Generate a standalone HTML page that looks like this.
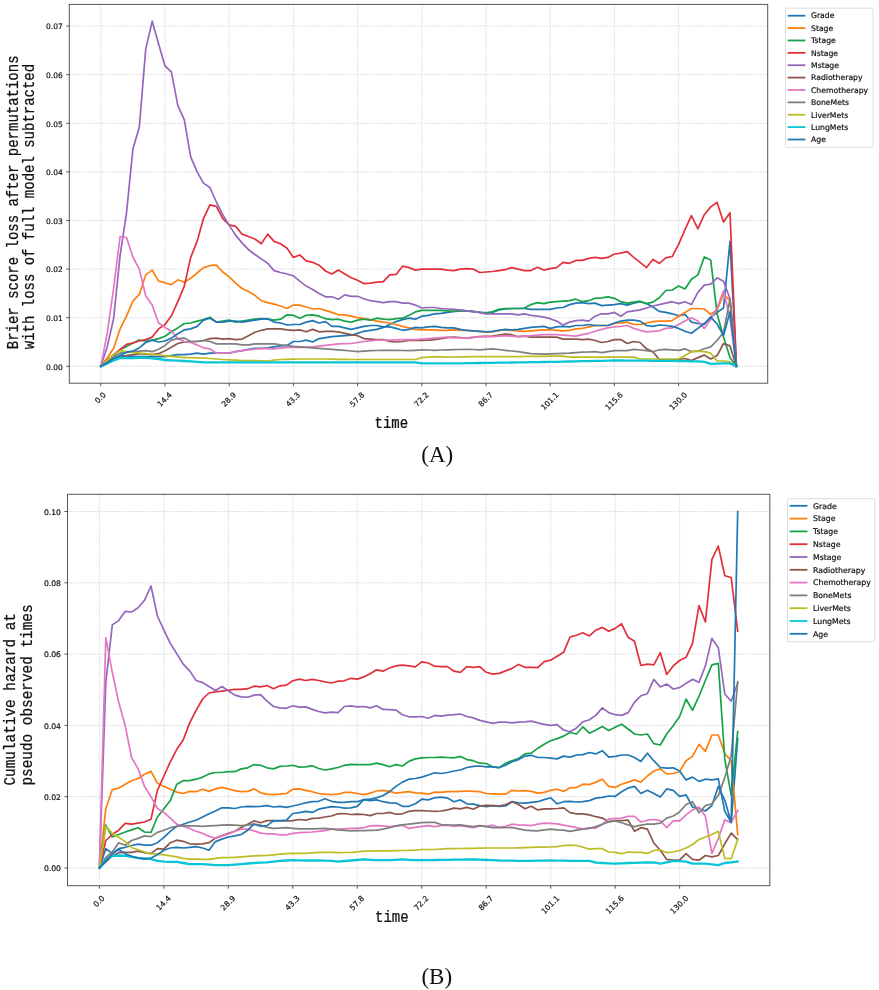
<!DOCTYPE html>
<html lang="en"><head><meta charset="utf-8"><title>Figure</title>
<style>
html,body{margin:0;padding:0;background:#fff}
body{width:879px;height:990px;overflow:hidden}
svg{display:block}
</style></head><body>
<svg width="879" height="990" viewBox="0 0 879 990">
<rect width="879" height="990" fill="#fff"/>
<g id="chartA">
<path d="M100.80 4.40V383.20M165.00 4.40V383.20M229.20 4.40V383.20M293.40 4.40V383.20M357.60 4.40V383.20M421.80 4.40V383.20M486.00 4.40V383.20M550.20 4.40V383.20M614.40 4.40V383.20M678.60 4.40V383.20M69.30 366.30H767.70M69.30 317.70H767.70M69.30 269.10H767.70M69.30 220.50H767.70M69.30 171.90H767.70M69.30 123.30H767.70M69.30 74.70H767.70M69.30 26.10H767.70" fill="none" stroke="#cdcdcd" stroke-width="0.7" stroke-dasharray="1.8 1.2"/>
<polyline points="100.8,366.3 107.2,362.4 113.6,358.5 120.1,355.6 126.5,356.1 132.9,356.3 139.3,356.6 145.7,356.6 152.2,356.6 158.6,356.6 165.0,356.6 171.4,355.6 177.8,354.6 184.3,354.6 190.7,354.2 197.1,353.2 203.5,354.2 209.9,353.2 216.4,353.2 222.8,353.2 229.2,353.2 235.6,351.7 242.0,350.7 248.5,349.3 254.9,348.3 261.3,348.3 267.7,347.8 274.1,346.9 280.6,345.9 287.0,345.4 293.4,341.5 299.8,341.5 306.2,340.1 312.7,342.0 319.1,338.6 325.5,337.6 331.9,336.7 338.3,336.2 344.8,335.7 351.2,335.2 357.6,333.3 364.0,331.3 370.4,330.3 376.9,329.4 383.3,327.4 389.7,324.5 396.1,321.6 402.5,319.6 409.0,318.2 415.4,319.2 421.8,316.2 428.2,315.3 434.6,313.8 441.1,313.3 447.5,312.4 453.9,311.4 460.3,310.4 466.7,310.9 473.2,311.4 479.6,312.4 486.0,312.8 492.4,312.4 498.8,309.9 505.3,309.0 511.7,308.5 518.1,308.5 524.5,308.5 530.9,309.4 537.4,309.4 543.8,309.4 550.2,309.4 556.6,308.0 563.0,307.5 569.5,304.6 575.9,303.1 582.3,302.6 588.7,303.6 595.1,303.1 601.6,305.6 608.0,305.1 614.4,304.6 620.8,303.6 627.2,305.1 633.7,303.1 640.1,301.7 646.5,303.6 652.9,307.0 659.3,311.4 665.8,312.4 672.2,313.8 678.6,315.8 685.0,314.3 691.4,322.1 697.9,323.5 704.3,324.5 710.7,317.2 717.1,312.4 723.5,308.0 730.0,241.4 736.4,366.3" fill="none" stroke="#1f77b4" stroke-width="1.7" stroke-linejoin="round" stroke-linecap="square"/>
<polyline points="100.8,366.3 107.2,358.0 113.6,348.3 120.1,328.9 126.5,316.2 132.9,301.2 139.3,294.4 145.7,274.9 152.2,270.1 158.6,281.2 165.0,282.7 171.4,284.7 177.8,279.8 184.3,282.2 190.7,278.3 197.1,273.0 203.5,267.6 209.9,265.7 216.4,265.2 222.8,272.0 229.2,276.9 235.6,283.2 242.0,288.5 248.5,291.5 254.9,295.3 261.3,300.7 267.7,302.6 274.1,304.1 280.6,306.0 287.0,308.5 293.4,305.1 299.8,305.1 306.2,307.0 312.7,309.0 319.1,308.5 325.5,310.4 331.9,312.4 338.3,314.8 344.8,314.8 351.2,316.2 357.6,317.7 364.0,318.7 370.4,319.6 376.9,321.1 383.3,322.1 389.7,323.0 396.1,324.5 402.5,326.4 409.0,327.9 415.4,329.4 421.8,329.9 428.2,329.9 434.6,329.9 441.1,330.3 447.5,330.3 453.9,329.9 460.3,330.1 466.7,330.3 473.2,330.8 479.6,331.3 486.0,331.8 492.4,331.8 498.8,330.3 505.3,329.9 511.7,330.3 518.1,330.8 524.5,331.3 530.9,330.8 537.4,330.3 543.8,329.9 550.2,329.9 556.6,330.3 563.0,330.8 569.5,330.3 575.9,328.9 582.3,328.4 588.7,326.9 595.1,325.5 601.6,325.5 608.0,325.5 614.4,323.5 620.8,323.0 627.2,322.1 633.7,324.5 640.1,324.5 646.5,323.0 652.9,321.6 659.3,321.1 665.8,321.1 672.2,320.6 678.6,316.2 685.0,312.4 691.4,308.5 697.9,308.5 704.3,309.0 710.7,314.3 717.1,309.9 723.5,294.4 730.0,300.7 736.4,366.3" fill="none" stroke="#ff7f0e" stroke-width="1.7" stroke-linejoin="round" stroke-linecap="square"/>
<polyline points="100.8,366.3 107.2,360.5 113.6,355.1 120.1,349.8 126.5,346.4 132.9,343.0 139.3,340.1 145.7,341.0 152.2,340.1 158.6,338.6 165.0,336.2 171.4,331.8 177.8,327.9 184.3,323.5 190.7,323.0 197.1,321.1 203.5,319.6 209.9,317.2 216.4,322.1 222.8,321.1 229.2,320.1 235.6,322.1 242.0,321.1 248.5,320.1 254.9,319.2 261.3,318.7 267.7,319.2 274.1,320.1 280.6,319.2 287.0,314.8 293.4,315.3 299.8,318.2 306.2,315.3 312.7,314.8 319.1,316.2 325.5,318.7 331.9,319.6 338.3,319.2 344.8,321.1 351.2,322.1 357.6,320.1 364.0,319.2 370.4,320.1 376.9,318.2 383.3,319.2 389.7,319.6 396.1,318.7 402.5,318.2 409.0,315.3 415.4,311.9 421.8,310.4 428.2,310.4 434.6,310.4 441.1,310.4 447.5,310.9 453.9,311.4 460.3,311.1 466.7,310.9 473.2,311.6 479.6,312.4 486.0,312.8 492.4,311.9 498.8,309.4 505.3,308.5 511.7,308.5 518.1,308.5 524.5,308.0 530.9,304.6 537.4,302.6 543.8,303.6 550.2,302.1 556.6,301.7 563.0,301.2 569.5,300.7 575.9,299.2 582.3,301.7 588.7,300.7 595.1,298.3 601.6,297.8 608.0,296.8 614.4,298.3 620.8,301.7 627.2,303.1 633.7,302.1 640.1,301.2 646.5,303.6 652.9,302.1 659.3,297.8 665.8,290.5 672.2,290.0 678.6,286.1 685.0,289.0 691.4,279.3 697.9,274.9 704.3,257.0 710.7,259.9 717.1,313.8 723.5,337.1 730.0,357.6 736.4,366.3" fill="none" stroke="#16a248" stroke-width="1.7" stroke-linejoin="round" stroke-linecap="square"/>
<polyline points="100.8,366.3 107.2,360.5 113.6,354.6 120.1,349.3 126.5,344.4 132.9,343.0 139.3,341.0 145.7,339.6 152.2,337.1 158.6,328.9 165.0,324.5 171.4,315.8 177.8,301.7 184.3,286.1 190.7,257.4 197.1,241.4 203.5,218.6 209.9,204.9 216.4,206.4 222.8,218.6 229.2,224.9 235.6,226.3 242.0,234.1 248.5,236.5 254.9,239.0 261.3,243.8 267.7,234.1 274.1,241.4 280.6,243.8 287.0,248.2 293.4,257.4 299.8,255.0 306.2,260.8 312.7,262.3 319.1,265.2 325.5,271.0 331.9,274.0 338.3,270.1 344.8,274.0 351.2,277.8 357.6,280.3 364.0,283.7 370.4,283.2 376.9,282.2 383.3,281.7 389.7,274.9 396.1,274.4 402.5,266.2 409.0,267.6 415.4,270.1 421.8,269.1 428.2,269.1 434.6,269.1 441.1,269.1 447.5,270.1 453.9,270.6 460.3,269.1 466.7,268.6 473.2,269.1 479.6,272.5 486.0,272.0 492.4,271.5 498.8,270.6 505.3,269.6 511.7,267.6 518.1,269.1 524.5,270.6 530.9,270.6 537.4,267.2 543.8,270.1 550.2,268.6 556.6,267.6 563.0,262.3 569.5,263.3 575.9,260.4 582.3,260.4 588.7,258.4 595.1,257.4 601.6,258.4 608.0,257.4 614.4,254.0 620.8,253.1 627.2,251.6 633.7,257.4 640.1,262.3 646.5,267.6 652.9,259.4 659.3,263.3 665.8,257.9 672.2,256.5 678.6,244.3 685.0,229.7 691.4,215.6 697.9,228.8 704.3,214.7 710.7,206.9 717.1,202.5 723.5,222.0 730.0,212.7 736.4,366.3" fill="none" stroke="#e2303a" stroke-width="1.7" stroke-linejoin="round" stroke-linecap="square"/>
<polyline points="100.8,366.3 107.2,346.9 113.6,318.7 120.1,255.5 126.5,213.2 132.9,149.1 139.3,127.2 145.7,49.4 152.2,21.2 158.6,44.1 165.0,66.0 171.4,71.8 177.8,105.3 184.3,119.9 190.7,156.8 197.1,171.9 203.5,183.1 209.9,187.5 216.4,202.0 222.8,214.7 229.2,225.4 235.6,235.1 242.0,242.9 248.5,249.7 254.9,254.5 261.3,258.9 267.7,263.3 274.1,270.6 280.6,272.5 287.0,274.0 293.4,275.9 299.8,281.2 306.2,286.1 312.7,289.5 319.1,293.4 325.5,296.8 331.9,296.8 338.3,299.2 344.8,294.9 351.2,296.3 357.6,296.3 364.0,298.7 370.4,300.7 376.9,301.7 383.3,302.6 389.7,301.7 396.1,301.7 402.5,303.1 409.0,303.1 415.4,305.1 421.8,308.0 428.2,307.5 434.6,307.5 441.1,308.5 447.5,309.0 453.9,309.4 460.3,310.2 466.7,310.9 473.2,311.6 479.6,312.4 486.0,313.8 492.4,313.8 498.8,313.8 505.3,313.8 511.7,313.8 518.1,314.8 524.5,313.8 530.9,315.3 537.4,316.2 543.8,317.2 550.2,318.7 556.6,321.1 563.0,325.0 569.5,322.1 575.9,320.6 582.3,320.1 588.7,321.1 595.1,316.2 601.6,313.8 608.0,313.8 614.4,312.4 620.8,316.2 627.2,311.9 633.7,310.9 640.1,309.9 646.5,308.0 652.9,306.0 659.3,304.6 665.8,303.1 672.2,301.7 678.6,303.6 685.0,301.7 691.4,304.6 697.9,292.4 704.3,285.1 710.7,284.2 717.1,277.8 723.5,281.2 730.0,298.7 736.4,366.3" fill="none" stroke="#9467bd" stroke-width="1.7" stroke-linejoin="round" stroke-linecap="square"/>
<polyline points="100.8,366.3 107.2,363.4 113.6,360.5 120.1,357.6 126.5,355.6 132.9,354.6 139.3,353.7 145.7,354.2 152.2,354.6 158.6,353.7 165.0,350.7 171.4,347.3 177.8,343.5 184.3,342.0 190.7,341.5 197.1,341.5 203.5,340.5 209.9,338.6 216.4,338.1 222.8,339.1 229.2,338.6 235.6,339.6 242.0,339.1 248.5,335.7 254.9,332.3 261.3,330.3 267.7,328.9 274.1,328.9 280.6,328.9 287.0,329.9 293.4,330.3 299.8,329.9 306.2,331.8 312.7,329.4 319.1,331.8 325.5,331.3 331.9,331.3 338.3,331.8 344.8,333.3 351.2,334.7 357.6,335.7 364.0,338.6 370.4,339.1 376.9,339.6 383.3,339.6 389.7,341.5 396.1,342.0 402.5,341.5 409.0,340.5 415.4,340.1 421.8,340.5 428.2,340.1 434.6,339.6 441.1,338.6 447.5,337.6 453.9,337.1 460.3,337.6 466.7,338.1 473.2,337.4 479.6,336.7 486.0,336.4 492.4,336.2 498.8,335.2 505.3,334.2 511.7,334.7 518.1,336.7 524.5,336.2 530.9,337.1 537.4,337.1 543.8,337.1 550.2,337.1 556.6,337.1 563.0,339.1 569.5,339.1 575.9,339.1 582.3,339.6 588.7,339.1 595.1,340.5 601.6,342.5 608.0,341.5 614.4,339.6 620.8,339.6 627.2,343.5 633.7,341.5 640.1,342.5 646.5,348.8 652.9,351.7 659.3,359.5 665.8,360.0 672.2,360.0 678.6,359.5 685.0,358.5 691.4,360.5 697.9,357.6 704.3,355.1 710.7,359.0 717.1,355.6 723.5,343.5 730.0,345.9 736.4,366.3" fill="none" stroke="#8c564b" stroke-width="1.7" stroke-linejoin="round" stroke-linecap="square"/>
<polyline points="100.8,366.3 107.2,333.3 113.6,288.5 120.1,236.5 126.5,237.5 132.9,257.0 139.3,269.1 145.7,295.8 152.2,305.1 158.6,323.0 165.0,327.4 171.4,331.3 177.8,338.6 184.3,341.5 190.7,342.5 197.1,344.9 203.5,347.8 209.9,348.8 216.4,353.2 222.8,353.2 229.2,353.2 235.6,351.7 242.0,350.7 248.5,349.8 254.9,349.0 261.3,348.3 267.7,348.6 274.1,348.8 280.6,348.1 287.0,347.3 293.4,347.3 299.8,347.3 306.2,347.1 312.7,346.9 319.1,346.1 325.5,345.4 331.9,344.7 338.3,343.9 344.8,343.7 351.2,343.5 357.6,342.5 364.0,341.5 370.4,340.8 376.9,340.1 383.3,340.1 389.7,340.1 396.1,339.8 402.5,339.6 409.0,339.6 415.4,339.6 421.8,339.1 428.2,338.6 434.6,338.1 441.1,337.6 447.5,337.1 453.9,337.6 460.3,337.9 466.7,338.1 473.2,337.4 479.6,336.7 486.0,336.7 492.4,336.7 498.8,336.2 505.3,335.7 511.7,336.2 518.1,336.7 524.5,336.2 530.9,335.7 537.4,335.2 543.8,334.7 550.2,334.7 556.6,334.7 563.0,335.2 569.5,335.7 575.9,336.2 582.3,334.7 588.7,333.3 595.1,331.3 601.6,329.4 608.0,327.9 614.4,326.9 620.8,326.4 627.2,325.5 633.7,328.4 640.1,330.3 646.5,331.8 652.9,331.3 659.3,330.8 665.8,328.4 672.2,327.9 678.6,324.5 685.0,321.1 691.4,317.7 697.9,321.1 704.3,328.4 710.7,319.6 717.1,308.0 723.5,291.0 730.0,317.7 736.4,366.3" fill="none" stroke="#e377c2" stroke-width="1.7" stroke-linejoin="round" stroke-linecap="square"/>
<polyline points="100.8,366.3 107.2,361.4 113.6,356.6 120.1,353.2 126.5,352.4 132.9,351.7 139.3,351.2 145.7,350.7 152.2,351.7 158.6,349.3 165.0,345.4 171.4,340.1 177.8,338.6 184.3,338.1 190.7,341.5 197.1,341.5 203.5,340.5 209.9,341.5 216.4,343.9 222.8,343.9 229.2,343.9 235.6,343.9 242.0,344.9 248.5,344.9 254.9,343.9 261.3,343.9 267.7,343.9 274.1,343.9 280.6,344.9 287.0,345.6 293.4,346.4 299.8,346.9 306.2,347.3 312.7,347.8 319.1,348.3 325.5,348.8 331.9,349.3 338.3,349.8 344.8,350.3 351.2,351.0 357.6,351.7 364.0,351.2 370.4,350.7 376.9,350.5 383.3,350.3 389.7,350.3 396.1,350.3 402.5,350.5 409.0,350.7 415.4,350.3 421.8,349.8 428.2,350.0 434.6,350.3 441.1,350.0 447.5,349.8 453.9,349.6 460.3,349.5 466.7,349.3 473.2,349.5 479.6,349.8 486.0,349.3 492.4,348.8 498.8,349.5 505.3,350.3 511.7,351.0 518.1,351.7 524.5,352.7 530.9,353.7 537.4,353.9 543.8,354.2 550.2,353.9 556.6,353.7 563.0,353.4 569.5,353.2 575.9,352.7 582.3,352.2 588.7,352.0 595.1,351.7 601.6,352.7 608.0,351.7 614.4,350.7 620.8,350.7 627.2,350.7 633.7,349.3 640.1,350.0 646.5,350.7 652.9,351.7 659.3,349.8 665.8,349.3 672.2,349.8 678.6,350.3 685.0,348.8 691.4,351.7 697.9,351.2 704.3,348.8 710.7,346.9 717.1,340.5 723.5,332.3 730.0,299.2 736.4,366.3" fill="none" stroke="#7f7f7f" stroke-width="1.7" stroke-linejoin="round" stroke-linecap="square"/>
<polyline points="100.8,366.3 107.2,360.5 113.6,354.6 120.1,350.7 126.5,351.7 132.9,352.4 139.3,353.0 145.7,353.7 152.2,354.3 158.6,355.0 165.0,355.6 171.4,356.3 177.8,356.9 184.3,357.6 190.7,357.7 197.1,357.9 203.5,358.0 209.9,358.5 216.4,359.0 222.8,359.5 229.2,359.8 235.6,360.1 242.0,360.5 248.5,360.6 254.9,360.7 261.3,360.8 267.7,361.0 274.1,360.2 280.6,359.5 287.0,359.3 293.4,359.2 299.8,359.0 306.2,359.0 312.7,359.0 319.1,359.0 325.5,359.0 331.9,359.1 338.3,359.3 344.8,359.4 351.2,359.5 357.6,359.5 364.0,359.5 370.4,359.5 376.9,359.5 383.3,359.5 389.7,359.5 396.1,359.5 402.5,359.5 409.0,359.5 415.4,359.5 421.8,357.6 428.2,357.1 434.6,356.6 441.1,356.8 447.5,357.1 453.9,357.0 460.3,356.9 466.7,356.8 473.2,356.7 479.6,356.6 486.0,356.6 492.4,356.6 498.8,356.6 505.3,356.6 511.7,356.6 518.1,356.6 524.5,356.5 530.9,356.4 537.4,356.4 543.8,356.3 550.2,356.2 556.6,356.2 563.0,356.1 569.5,357.1 575.9,357.1 582.3,357.1 588.7,357.1 595.1,357.1 601.6,357.1 608.0,357.1 614.4,357.1 620.8,357.1 627.2,357.1 633.7,357.1 640.1,359.0 646.5,359.0 652.9,359.0 659.3,359.0 665.8,359.0 672.2,359.0 678.6,359.0 685.0,355.6 691.4,351.7 697.9,351.2 704.3,351.7 710.7,353.2 717.1,361.0 723.5,361.0 730.0,361.9 736.4,366.3" fill="none" stroke="#bcbd22" stroke-width="1.7" stroke-linejoin="round" stroke-linecap="square"/>
<polyline points="100.8,366.3 107.2,363.4 113.6,360.5 120.1,358.0 126.5,358.0 132.9,358.0 139.3,357.8 145.7,357.6 152.2,358.3 158.6,359.0 165.0,360.0 171.4,360.3 177.8,360.6 184.3,361.0 190.7,361.4 197.1,361.9 203.5,362.4 209.9,362.4 216.4,362.4 222.8,362.4 229.2,362.4 235.6,362.4 242.0,362.4 248.5,362.4 254.9,362.4 261.3,362.4 267.7,362.4 274.1,362.4 280.6,362.4 287.0,362.4 293.4,362.4 299.8,362.4 306.2,362.4 312.7,362.4 319.1,362.4 325.5,362.4 331.9,362.4 338.3,362.4 344.8,362.4 351.2,362.4 357.6,362.4 364.0,362.4 370.4,362.4 376.9,362.4 383.3,362.4 389.7,362.4 396.1,362.4 402.5,362.4 409.0,362.4 415.4,362.4 421.8,363.4 428.2,363.4 434.6,363.4 441.1,363.4 447.5,363.4 453.9,363.4 460.3,363.3 466.7,363.2 473.2,363.1 479.6,363.0 486.0,362.9 492.4,362.8 498.8,362.7 505.3,362.6 511.7,362.5 518.1,362.4 524.5,362.3 530.9,362.2 537.4,362.1 543.8,362.0 550.2,361.9 556.6,361.8 563.0,361.6 569.5,361.5 575.9,361.3 582.3,361.2 588.7,361.1 595.1,360.9 601.6,360.8 608.0,360.6 614.4,360.5 620.8,360.5 627.2,360.6 633.7,360.6 640.1,360.7 646.5,360.7 652.9,360.8 659.3,360.8 665.8,360.9 672.2,360.9 678.6,361.0 685.0,361.1 691.4,361.3 697.9,361.4 704.3,361.9 710.7,363.9 717.1,363.6 723.5,363.4 730.0,363.4 736.4,366.3" fill="none" stroke="#08c5d5" stroke-width="2.3" stroke-linejoin="round" stroke-linecap="square"/>
<polyline points="100.8,366.3 107.2,362.4 113.6,358.5 120.1,355.6 126.5,352.2 132.9,351.2 139.3,347.8 145.7,342.5 152.2,340.1 158.6,342.0 165.0,341.0 171.4,338.1 177.8,333.7 184.3,329.9 190.7,328.9 197.1,326.4 203.5,320.1 209.9,318.2 216.4,322.1 222.8,322.1 229.2,321.1 235.6,321.1 242.0,322.1 248.5,321.1 254.9,320.1 261.3,319.2 267.7,318.7 274.1,322.1 280.6,323.0 287.0,325.0 293.4,324.5 299.8,324.5 306.2,322.1 312.7,320.6 319.1,323.0 325.5,321.6 331.9,326.4 338.3,326.4 344.8,327.9 351.2,329.4 357.6,327.9 364.0,326.4 370.4,325.5 376.9,325.5 383.3,326.9 389.7,326.9 396.1,328.4 402.5,330.3 409.0,329.4 415.4,327.4 421.8,327.9 428.2,326.9 434.6,326.4 441.1,327.4 447.5,327.9 453.9,327.9 460.3,329.4 466.7,330.3 473.2,330.8 479.6,331.3 486.0,331.8 492.4,331.3 498.8,330.3 505.3,329.4 511.7,329.9 518.1,329.4 524.5,328.4 530.9,327.4 537.4,326.9 543.8,326.4 550.2,328.4 556.6,326.9 563.0,326.4 569.5,326.9 575.9,325.5 582.3,325.5 588.7,324.5 595.1,325.5 601.6,325.5 608.0,325.5 614.4,323.0 620.8,321.1 627.2,320.1 633.7,320.1 640.1,321.1 646.5,325.5 652.9,326.4 659.3,325.0 665.8,325.5 672.2,326.4 678.6,328.4 685.0,331.3 691.4,333.3 697.9,328.4 704.3,323.5 710.7,317.2 717.1,324.0 723.5,335.7 730.0,311.9 736.4,366.3" fill="none" stroke="#1f77b4" stroke-width="1.7" stroke-linejoin="round" stroke-linecap="square"/>
<rect x="69.30" y="4.40" width="698.40" height="378.80" fill="none" stroke="#555" stroke-width="1"/>
<path d="M100.80 383.20v3M165.00 383.20v3M229.20 383.20v3M293.40 383.20v3M357.60 383.20v3M421.80 383.20v3M486.00 383.20v3M550.20 383.20v3M614.40 383.20v3M678.60 383.20v3M69.30 366.30h-3M69.30 317.70h-3M69.30 269.10h-3M69.30 220.50h-3M69.30 171.90h-3M69.30 123.30h-3M69.30 74.70h-3M69.30 26.10h-3" fill="none" stroke="#444" stroke-width="0.9"/>
<g font-family="'DejaVu Sans','Liberation Sans',sans-serif" font-size="7.5" fill="#111" stroke="#111" stroke-width="0.2">
<text x="62.80" y="369.50" text-anchor="end">0.00</text>
<text x="62.80" y="320.90" text-anchor="end">0.01</text>
<text x="62.80" y="272.30" text-anchor="end">0.02</text>
<text x="62.80" y="223.70" text-anchor="end">0.03</text>
<text x="62.80" y="175.10" text-anchor="end">0.04</text>
<text x="62.80" y="126.50" text-anchor="end">0.05</text>
<text x="62.80" y="77.90" text-anchor="end">0.06</text>
<text x="62.80" y="29.30" text-anchor="end">0.07</text>
<text transform="translate(100.30 397.65) rotate(-45)" text-anchor="middle" y="2.70">0.0</text>
<text transform="translate(164.50 399.34) rotate(-45)" text-anchor="middle" y="2.70">14.4</text>
<text transform="translate(228.70 399.34) rotate(-45)" text-anchor="middle" y="2.70">28.9</text>
<text transform="translate(292.90 399.34) rotate(-45)" text-anchor="middle" y="2.70">43.3</text>
<text transform="translate(357.10 399.34) rotate(-45)" text-anchor="middle" y="2.70">57.8</text>
<text transform="translate(421.30 399.34) rotate(-45)" text-anchor="middle" y="2.70">72.2</text>
<text transform="translate(485.50 399.34) rotate(-45)" text-anchor="middle" y="2.70">86.7</text>
<text transform="translate(549.70 401.03) rotate(-45)" text-anchor="middle" y="2.70">101.1</text>
<text transform="translate(613.90 401.03) rotate(-45)" text-anchor="middle" y="2.70">115.6</text>
<text transform="translate(678.10 401.03) rotate(-45)" text-anchor="middle" y="2.70">130.0</text>
</g>
<text transform="translate(17.8 349.2) rotate(-90) scale(1 1.13)" font-family="'Liberation Mono','DejaVu Sans Mono',monospace" font-size="14.0" fill="#111" stroke="#111" stroke-width="0.22" xml:space="preserve">Brier score loss after permutations</text>
<text transform="translate(34.3 349.2) rotate(-90) scale(1 1.13)" font-family="'Liberation Mono','DejaVu Sans Mono',monospace" font-size="14.0" fill="#111" stroke="#111" stroke-width="0.22" xml:space="preserve">with loss of full model subtracted</text>
<text transform="translate(374.5 428.3) scale(1 1.13)" font-family="'Liberation Mono','DejaVu Sans Mono',monospace" font-size="14.05" fill="#111" stroke="#111" stroke-width="0.22">time</text>
<text x="437.3" y="462" font-family="'Liberation Serif','DejaVu Serif',serif" font-size="23" fill="#111" text-anchor="middle">(A)</text>
<rect x="785.5" y="8.2" width="87.5" height="139.10000000000002" rx="1.5" fill="#fff" stroke="#d4d4d4" stroke-width="0.8"/>
<g font-family="'DejaVu Sans','Liberation Sans',sans-serif" font-size="7.7" fill="#111" stroke="#111" stroke-width="0.2">
<path d="M788.5 15.70H804.5" stroke="#1f77b4" stroke-width="1.8" stroke-linecap="square"/>
<text x="811" y="18.47">Grade</text>
<path d="M788.5 28.08H804.5" stroke="#ff7f0e" stroke-width="1.8" stroke-linecap="square"/>
<text x="811" y="30.85">Stage</text>
<path d="M788.5 40.46H804.5" stroke="#16a248" stroke-width="1.8" stroke-linecap="square"/>
<text x="811" y="43.23">Tstage</text>
<path d="M788.5 52.84H804.5" stroke="#e2303a" stroke-width="1.8" stroke-linecap="square"/>
<text x="811" y="55.61">Nstage</text>
<path d="M788.5 65.22H804.5" stroke="#9467bd" stroke-width="1.8" stroke-linecap="square"/>
<text x="811" y="67.99">Mstage</text>
<path d="M788.5 77.60H804.5" stroke="#8c564b" stroke-width="1.8" stroke-linecap="square"/>
<text x="811" y="80.37">Radiotherapy</text>
<path d="M788.5 89.98H804.5" stroke="#e377c2" stroke-width="1.8" stroke-linecap="square"/>
<text x="811" y="92.75">Chemotherapy</text>
<path d="M788.5 102.36H804.5" stroke="#7f7f7f" stroke-width="1.8" stroke-linecap="square"/>
<text x="811" y="105.13">BoneMets</text>
<path d="M788.5 114.74H804.5" stroke="#bcbd22" stroke-width="1.8" stroke-linecap="square"/>
<text x="811" y="117.51">LiverMets</text>
<path d="M788.5 127.12H804.5" stroke="#08c5d5" stroke-width="1.8" stroke-linecap="square"/>
<text x="811" y="129.89">LungMets</text>
<path d="M788.5 139.50H804.5" stroke="#1f77b4" stroke-width="1.8" stroke-linecap="square"/>
<text x="811" y="142.27">Age</text>
</g>
</g>
<g id="chartB">
<path d="M99.40 494.30V885.70M163.87 494.30V885.70M228.34 494.30V885.70M292.81 494.30V885.70M357.28 494.30V885.70M421.75 494.30V885.70M486.22 494.30V885.70M550.69 494.30V885.70M615.16 494.30V885.70M679.63 494.30V885.70M67.50 868.00H769.80M67.50 796.70H769.80M67.50 725.40H769.80M67.50 654.10H769.80M67.50 582.80H769.80M67.50 511.50H769.80" fill="none" stroke="#cdcdcd" stroke-width="0.7" stroke-dasharray="1.8 1.2"/>
<polyline points="99.4,868.0 105.8,848.7 112.3,853.7 118.7,848.7 125.2,847.3 131.6,845.5 138.1,844.1 144.5,845.2 151.0,845.2 157.4,842.7 163.9,837.3 170.3,831.3 176.8,826.3 183.2,824.2 189.7,822.0 196.1,820.2 202.6,817.0 209.0,813.8 215.4,811.0 221.9,807.8 228.3,807.8 234.8,808.5 241.2,807.0 247.7,806.3 254.1,806.7 260.6,806.3 267.0,805.6 273.5,807.0 279.9,806.3 286.4,807.4 292.8,806.0 299.3,804.5 305.7,802.8 312.2,801.7 318.6,801.3 325.0,798.8 331.5,801.3 337.9,802.4 344.4,802.4 350.8,801.7 357.3,801.7 363.7,799.6 370.2,800.6 376.6,799.9 383.1,801.7 389.5,802.8 396.0,803.1 402.4,806.3 408.9,806.3 415.3,803.8 421.8,799.2 428.2,799.9 434.6,797.8 441.1,797.1 447.5,798.1 454.0,801.7 460.4,799.9 466.9,803.8 473.3,804.2 479.8,805.6 486.2,806.7 492.7,805.6 499.1,806.3 505.6,806.0 512.0,801.7 518.5,802.8 524.9,803.1 531.3,802.4 537.8,801.7 544.2,799.6 550.7,797.8 557.1,803.8 563.6,801.7 570.0,801.3 576.5,802.0 582.9,801.7 589.4,800.6 595.8,798.1 602.3,797.4 608.7,796.0 615.2,796.3 621.6,791.7 628.1,788.1 634.5,786.4 640.9,793.5 647.4,790.3 653.8,793.5 660.3,797.1 666.7,788.9 673.2,790.3 679.6,796.3 686.1,794.9 692.5,807.0 699.0,808.8 705.4,811.0 711.9,805.6 718.3,786.4 724.8,800.3 731.2,822.4 737.7,738.6" fill="none" stroke="#1f77b4" stroke-width="1.7" stroke-linejoin="round" stroke-linecap="square"/>
<polyline points="99.4,868.0 105.8,808.8 112.3,789.6 118.7,788.1 125.2,784.2 131.6,780.7 138.1,778.5 144.5,774.2 151.0,771.4 157.4,783.2 163.9,786.4 170.3,789.2 176.8,792.1 183.2,793.5 189.7,791.4 196.1,791.7 202.6,789.2 209.0,791.4 215.4,788.9 221.9,787.4 228.3,788.9 234.8,790.6 241.2,791.7 247.7,791.4 254.1,788.9 260.6,792.8 267.0,794.2 273.5,794.6 279.9,794.2 286.4,793.5 292.8,789.2 299.3,788.9 305.7,790.3 312.2,791.7 318.6,793.5 325.0,794.2 331.5,794.6 337.9,794.2 344.4,792.4 350.8,792.4 357.3,793.5 363.7,794.6 370.2,793.1 376.6,791.0 383.1,790.3 389.5,791.4 396.0,793.1 402.4,792.4 408.9,791.7 415.3,792.8 421.8,793.1 428.2,794.2 434.6,792.1 441.1,792.4 447.5,791.7 454.0,791.7 460.4,791.4 466.9,791.0 473.3,791.4 479.8,791.7 486.2,793.5 492.7,793.8 499.1,794.2 505.6,794.2 512.0,790.3 518.5,791.0 524.9,790.6 531.3,791.4 537.8,793.1 544.2,792.4 550.7,790.3 557.1,789.2 563.6,791.4 570.0,787.8 576.5,787.4 582.9,784.2 589.4,784.6 595.8,782.1 602.3,779.2 608.7,786.4 615.2,787.4 621.6,784.2 628.1,782.1 634.5,779.9 640.9,782.1 647.4,776.0 653.8,771.0 660.3,768.9 666.7,773.9 673.2,773.5 679.6,771.7 686.1,760.7 692.5,756.4 699.0,744.3 705.4,751.4 711.9,735.0 718.3,735.0 724.8,753.6 731.2,760.7 737.7,834.5" fill="none" stroke="#ff7f0e" stroke-width="1.7" stroke-linejoin="round" stroke-linecap="square"/>
<polyline points="99.4,868.0 105.8,825.2 112.3,837.0 118.7,834.5 125.2,832.0 131.6,829.9 138.1,827.7 144.5,832.0 151.0,832.4 157.4,817.0 163.9,808.8 170.3,800.6 176.8,784.2 183.2,780.7 189.7,780.7 196.1,779.2 202.6,777.1 209.0,773.9 215.4,772.5 221.9,772.5 228.3,771.7 234.8,771.7 241.2,768.9 247.7,767.8 254.1,764.6 260.6,765.3 267.0,767.8 273.5,768.9 279.9,766.4 286.4,766.0 292.8,765.3 299.3,767.1 305.7,766.8 312.2,765.7 318.6,768.5 325.0,770.0 331.5,768.9 337.9,767.5 344.4,765.3 350.8,764.3 357.3,764.6 363.7,764.6 370.2,764.6 376.6,763.2 383.1,764.6 389.5,766.8 396.0,764.6 402.4,766.0 408.9,761.4 415.3,758.9 421.8,757.8 428.2,757.5 434.6,757.5 441.1,757.1 447.5,757.5 454.0,757.8 460.4,756.4 466.9,759.6 473.3,760.7 479.8,763.2 486.2,763.5 492.7,766.8 499.1,767.8 505.6,763.2 512.0,760.7 518.5,758.6 524.9,753.9 531.3,753.2 537.8,748.2 544.2,744.3 550.7,740.7 557.1,738.6 563.6,736.1 570.0,732.5 576.5,734.0 582.9,726.8 589.4,733.2 595.8,730.0 602.3,726.5 608.7,730.4 615.2,727.2 621.6,724.3 628.1,729.0 634.5,734.0 640.9,735.0 647.4,734.0 653.8,743.6 660.3,745.0 666.7,734.0 673.2,725.8 679.6,716.5 686.1,699.0 692.5,710.4 699.0,696.2 705.4,680.5 711.9,664.8 718.3,663.4 724.8,759.3 731.2,795.3 737.7,731.5" fill="none" stroke="#16a248" stroke-width="1.7" stroke-linejoin="round" stroke-linecap="square"/>
<polyline points="99.4,868.0 105.8,840.5 112.3,834.5 118.7,830.2 125.2,823.4 131.6,824.2 138.1,823.1 144.5,822.0 151.0,819.2 157.4,790.3 163.9,776.0 170.3,761.8 176.8,749.3 183.2,740.0 189.7,722.9 196.1,710.4 202.6,699.0 209.0,693.0 215.4,691.9 221.9,691.2 228.3,690.1 234.8,689.4 241.2,689.4 247.7,688.7 254.1,686.2 260.6,686.9 267.0,685.5 273.5,688.7 279.9,685.8 286.4,685.1 292.8,680.8 299.3,679.1 305.7,680.5 312.2,679.4 318.6,680.5 325.0,681.9 331.5,683.0 337.9,681.2 344.4,680.8 350.8,678.3 357.3,679.1 363.7,676.9 370.2,673.7 376.6,669.8 383.1,671.2 389.5,668.0 396.0,665.9 402.4,665.2 408.9,665.9 415.3,666.9 421.8,661.9 428.2,663.0 434.6,666.2 441.1,666.6 447.5,666.6 454.0,671.2 460.4,672.3 466.9,666.6 473.3,667.3 479.8,666.6 486.2,672.3 492.7,674.1 499.1,673.4 505.6,670.9 512.0,668.4 518.5,664.4 524.9,667.3 531.3,667.3 537.8,667.6 544.2,661.6 550.7,660.2 557.1,656.2 563.6,652.3 570.0,637.0 576.5,635.2 582.9,632.7 589.4,635.9 595.8,630.2 602.3,627.4 608.7,631.3 615.2,628.4 621.6,623.8 628.1,637.3 634.5,641.3 640.9,665.5 647.4,664.1 653.8,664.8 660.3,652.7 666.7,674.4 673.2,665.9 679.6,660.5 686.1,657.3 692.5,643.4 699.0,605.6 705.4,622.0 711.9,559.3 718.3,546.1 724.8,575.7 731.2,577.5 737.7,631.3" fill="none" stroke="#e2303a" stroke-width="1.7" stroke-linejoin="round" stroke-linecap="square"/>
<polyline points="99.4,868.0 105.8,682.6 112.3,624.9 118.7,620.6 125.2,611.3 131.6,612.0 138.1,607.8 144.5,600.3 151.0,586.0 157.4,616.0 163.9,630.2 170.3,643.4 176.8,653.7 183.2,664.1 189.7,670.9 196.1,680.5 202.6,682.6 209.0,686.5 215.4,690.5 221.9,686.5 228.3,690.8 234.8,695.1 241.2,696.9 247.7,697.2 254.1,695.1 260.6,694.7 267.0,701.2 273.5,706.5 279.9,707.9 286.4,708.3 292.8,705.8 299.3,707.2 305.7,706.9 312.2,709.4 318.6,711.5 325.0,712.9 331.5,712.2 337.9,712.6 344.4,706.5 350.8,705.8 357.3,706.9 363.7,706.5 370.2,707.9 376.6,705.8 383.1,709.4 389.5,709.7 396.0,710.1 402.4,714.7 408.9,716.8 415.3,716.8 421.8,716.5 428.2,718.3 434.6,715.4 441.1,716.1 447.5,715.1 454.0,714.7 460.4,714.0 466.9,716.5 473.3,717.9 479.8,720.4 486.2,721.8 492.7,723.3 499.1,722.2 505.6,722.2 512.0,722.9 518.5,722.2 524.9,721.8 531.3,721.1 537.8,722.9 544.2,724.3 550.7,725.4 557.1,724.7 563.6,730.0 570.0,731.8 576.5,727.9 582.9,721.8 589.4,719.7 595.8,715.4 602.3,707.9 608.7,712.6 615.2,714.7 621.6,715.4 628.1,712.6 634.5,702.2 640.9,695.8 647.4,693.7 653.8,679.4 660.3,686.9 666.7,684.0 673.2,689.0 679.6,687.6 686.1,683.3 692.5,679.4 699.0,682.3 705.4,665.9 711.9,638.4 718.3,647.7 724.8,694.0 731.2,701.2 737.7,683.0" fill="none" stroke="#9467bd" stroke-width="1.7" stroke-linejoin="round" stroke-linecap="square"/>
<polyline points="99.4,868.0 105.8,861.9 112.3,855.9 118.7,852.7 125.2,852.3 131.6,852.3 138.1,851.2 144.5,852.7 151.0,853.7 157.4,848.7 163.9,849.1 170.3,842.7 176.8,840.2 183.2,841.3 189.7,843.8 196.1,844.1 202.6,843.8 209.0,842.7 215.4,838.1 221.9,835.9 228.3,833.4 234.8,831.3 241.2,827.4 247.7,824.2 254.1,820.9 260.6,822.7 267.0,820.6 273.5,820.6 279.9,820.9 286.4,820.9 292.8,820.6 299.3,819.5 305.7,820.2 312.2,818.4 318.6,818.1 325.0,817.0 331.5,816.0 337.9,813.8 344.4,813.5 350.8,814.5 357.3,814.2 363.7,814.5 370.2,815.6 376.6,813.5 383.1,813.5 389.5,812.4 396.0,814.2 402.4,813.8 408.9,811.3 415.3,810.6 421.8,810.6 428.2,811.0 434.6,811.3 441.1,811.0 447.5,809.9 454.0,808.1 460.4,808.8 466.9,807.4 473.3,809.2 479.8,806.0 486.2,805.3 492.7,805.6 499.1,806.0 505.6,804.5 512.0,801.7 518.5,804.5 524.9,808.8 531.3,806.3 537.8,809.9 544.2,808.8 550.7,808.8 557.1,808.5 563.6,807.8 570.0,812.7 576.5,813.8 582.9,813.8 589.4,814.9 595.8,816.7 602.3,818.1 608.7,821.7 615.2,820.6 621.6,820.6 628.1,820.2 634.5,831.3 640.9,827.7 647.4,829.1 653.8,843.0 660.3,850.2 666.7,859.4 673.2,860.2 679.6,860.2 686.1,853.7 692.5,859.4 699.0,860.2 705.4,855.5 711.9,856.9 718.3,855.5 724.8,843.8 731.2,833.1 737.7,839.5" fill="none" stroke="#8c564b" stroke-width="1.7" stroke-linejoin="round" stroke-linecap="square"/>
<polyline points="99.4,868.0 105.8,637.7 112.3,672.3 118.7,702.2 125.2,725.8 131.6,757.5 138.1,768.9 144.5,786.4 151.0,796.7 157.4,808.5 163.9,812.4 170.3,818.1 176.8,824.2 183.2,826.3 189.7,828.4 196.1,831.3 202.6,833.4 209.0,836.3 215.4,838.1 221.9,835.6 228.3,834.1 234.8,831.3 241.2,829.1 247.7,829.1 254.1,830.9 260.6,833.1 267.0,833.8 273.5,833.8 279.9,834.8 286.4,834.8 292.8,833.4 299.3,832.7 305.7,832.4 312.2,832.0 318.6,831.3 325.0,830.6 331.5,829.1 337.9,829.1 344.4,828.8 350.8,828.4 357.3,828.4 363.7,827.7 370.2,825.9 376.6,825.6 383.1,825.9 389.5,826.6 396.0,825.9 402.4,825.2 408.9,828.4 415.3,827.4 421.8,826.3 428.2,825.6 434.6,826.6 441.1,825.6 447.5,825.2 454.0,826.3 460.4,825.6 466.9,826.6 473.3,827.7 479.8,825.9 486.2,826.3 492.7,825.2 499.1,827.4 505.6,826.3 512.0,824.2 518.5,824.9 524.9,825.2 531.3,825.6 537.8,824.2 544.2,823.1 550.7,823.4 557.1,823.8 563.6,825.2 570.0,826.3 576.5,827.7 582.9,829.1 589.4,827.7 595.8,828.4 602.3,824.2 608.7,819.2 615.2,818.4 621.6,818.1 628.1,816.3 634.5,816.3 640.9,822.0 647.4,820.2 653.8,819.5 660.3,820.6 666.7,827.7 673.2,820.9 679.6,820.9 686.1,814.9 692.5,809.9 699.0,807.0 705.4,816.3 711.9,853.7 718.3,838.4 724.8,819.9 731.2,822.7 737.7,810.6" fill="none" stroke="#e377c2" stroke-width="1.7" stroke-linejoin="round" stroke-linecap="square"/>
<polyline points="99.4,868.0 105.8,857.3 112.3,852.0 118.7,842.7 125.2,845.2 131.6,840.5 138.1,838.4 144.5,835.9 151.0,836.6 157.4,832.4 163.9,830.2 170.3,827.7 176.8,826.3 183.2,825.6 189.7,825.9 196.1,825.9 202.6,826.3 209.0,825.9 215.4,825.6 221.9,825.2 228.3,824.9 234.8,825.2 241.2,825.6 247.7,825.2 254.1,824.2 260.6,825.2 267.0,827.4 273.5,828.4 279.9,828.1 286.4,827.7 292.8,828.3 299.3,828.8 305.7,828.8 312.2,828.8 318.6,828.6 325.0,828.4 331.5,829.1 337.9,829.9 344.4,830.4 350.8,830.9 357.3,830.7 363.7,830.6 370.2,830.4 376.6,830.2 383.1,829.1 389.5,827.7 396.0,825.9 402.4,824.9 408.9,824.2 415.3,823.4 421.8,822.7 428.2,822.4 434.6,822.4 441.1,824.5 447.5,825.2 454.0,825.0 460.4,824.9 466.9,825.8 473.3,826.6 479.8,825.6 486.2,826.6 492.7,827.7 499.1,827.7 505.6,827.7 512.0,827.4 518.5,828.8 524.9,830.2 531.3,830.6 537.8,830.9 544.2,829.9 550.7,829.1 557.1,829.9 563.6,830.2 570.0,831.3 576.5,830.2 582.9,829.1 589.4,828.4 595.8,826.6 602.3,824.2 608.7,822.0 615.2,820.9 621.6,822.7 628.1,824.9 634.5,826.6 640.9,825.2 647.4,824.2 653.8,824.2 660.3,823.1 666.7,818.1 673.2,816.0 679.6,812.0 686.1,804.5 692.5,801.7 699.0,812.7 705.4,805.6 711.9,803.8 718.3,795.6 724.8,777.4 731.2,755.7 737.7,681.6" fill="none" stroke="#7f7f7f" stroke-width="1.7" stroke-linejoin="round" stroke-linecap="square"/>
<polyline points="99.4,868.0 105.8,826.3 112.3,833.4 118.7,837.3 125.2,841.6 131.6,847.7 138.1,849.8 144.5,852.0 151.0,853.7 157.4,854.1 163.9,854.8 170.3,855.9 176.8,856.9 183.2,858.4 189.7,859.1 196.1,859.1 202.6,859.4 209.0,859.4 215.4,858.4 221.9,857.7 228.3,857.7 234.8,857.3 241.2,856.9 247.7,856.4 254.1,855.9 260.6,855.7 267.0,855.5 273.5,854.8 279.9,854.1 286.4,853.7 292.8,853.4 299.3,853.4 305.7,853.4 312.2,852.8 318.6,852.3 325.0,852.3 331.5,852.3 337.9,852.7 344.4,852.5 350.8,852.3 357.3,851.8 363.7,851.2 370.2,851.1 376.6,850.9 383.1,850.9 389.5,850.9 396.0,850.7 402.4,850.5 408.9,850.4 415.3,850.2 421.8,849.5 428.2,849.5 434.6,849.5 441.1,849.1 447.5,848.7 454.0,848.6 460.4,848.5 466.9,848.4 473.3,848.3 479.8,848.2 486.2,848.0 492.7,848.0 499.1,848.0 505.6,848.0 512.0,848.0 518.5,847.8 524.9,847.6 531.3,847.3 537.8,847.2 544.2,847.1 550.7,847.0 557.1,846.6 563.6,845.5 570.0,845.2 576.5,845.5 582.9,847.3 589.4,849.1 595.8,848.7 602.3,848.7 608.7,852.0 615.2,852.3 621.6,853.7 628.1,852.0 634.5,852.3 640.9,852.3 647.4,853.4 653.8,850.5 660.3,849.8 666.7,852.7 673.2,852.0 679.6,850.5 686.1,848.0 692.5,844.5 699.0,839.5 705.4,837.0 711.9,834.5 718.3,831.3 724.8,858.4 731.2,858.7 737.7,839.5" fill="none" stroke="#bcbd22" stroke-width="1.7" stroke-linejoin="round" stroke-linecap="square"/>
<polyline points="99.4,868.0 105.8,859.1 112.3,856.2 118.7,855.5 125.2,855.9 131.6,856.9 138.1,858.0 144.5,858.4 151.0,859.1 157.4,860.9 163.9,861.6 170.3,861.8 176.8,861.9 183.2,863.0 189.7,864.1 196.1,864.1 202.6,864.1 209.0,864.6 215.4,865.1 221.9,865.1 228.3,865.1 234.8,864.6 241.2,864.1 247.7,863.5 254.1,863.0 260.6,862.7 267.0,862.3 273.5,861.6 279.9,860.9 286.4,860.5 292.8,860.2 299.3,860.3 305.7,860.5 312.2,860.5 318.6,860.5 325.0,860.7 331.5,860.9 337.9,861.6 344.4,861.0 350.8,860.5 357.3,860.0 363.7,859.4 370.2,859.8 376.6,860.2 383.1,860.2 389.5,860.2 396.0,859.8 402.4,859.4 408.9,859.8 415.3,860.2 421.8,860.2 428.2,860.2 434.6,860.0 441.1,859.9 447.5,859.8 454.0,859.7 460.4,859.6 466.9,859.5 473.3,859.4 479.8,859.7 486.2,860.0 492.7,860.2 499.1,860.5 505.6,860.6 512.0,860.7 518.5,860.8 524.9,860.9 531.3,860.8 537.8,860.7 544.2,860.6 550.7,860.5 557.1,860.6 563.6,860.7 570.0,860.8 576.5,860.9 582.9,860.9 589.4,860.9 595.8,862.7 602.3,863.0 608.7,863.4 615.2,863.7 621.6,863.4 628.1,863.0 634.5,862.8 640.9,862.7 647.4,862.5 653.8,862.3 660.3,863.7 666.7,862.3 673.2,860.9 679.6,861.2 686.1,861.6 692.5,863.7 699.0,863.7 705.4,863.7 711.9,864.4 718.3,865.1 724.8,863.0 731.2,862.3 737.7,861.6" fill="none" stroke="#08c5d5" stroke-width="2.3" stroke-linejoin="round" stroke-linecap="square"/>
<polyline points="99.4,868.0 105.8,860.9 112.3,853.7 118.7,849.5 125.2,853.7 131.6,856.2 138.1,858.0 144.5,859.1 151.0,858.0 157.4,854.8 163.9,850.2 170.3,848.0 176.8,847.3 183.2,848.0 189.7,847.3 196.1,846.6 202.6,848.0 209.0,850.2 215.4,841.6 221.9,839.1 228.3,837.0 234.8,835.9 241.2,834.5 247.7,830.2 254.1,824.2 260.6,826.3 267.0,825.6 273.5,820.9 279.9,820.6 286.4,820.2 292.8,813.5 299.3,812.7 305.7,811.3 312.2,812.4 318.6,809.2 325.0,807.8 331.5,806.7 337.9,807.0 344.4,808.1 350.8,807.8 357.3,806.3 363.7,799.6 370.2,799.2 376.6,797.8 383.1,795.6 389.5,791.7 396.0,786.4 402.4,782.1 408.9,779.2 415.3,778.5 421.8,777.1 428.2,775.0 434.6,772.8 441.1,773.5 447.5,772.5 454.0,771.0 460.4,770.0 466.9,767.5 473.3,766.4 479.8,766.0 486.2,766.8 492.7,766.8 499.1,767.5 505.6,765.3 512.0,761.8 518.5,759.6 524.9,756.1 531.3,755.3 537.8,757.5 544.2,757.5 550.7,758.2 557.1,758.9 563.6,756.1 570.0,757.1 576.5,755.0 582.9,754.6 589.4,752.5 595.8,753.9 602.3,750.7 608.7,757.1 615.2,756.4 621.6,755.0 628.1,755.0 634.5,757.5 640.9,761.4 647.4,753.2 653.8,760.7 660.3,767.5 666.7,768.2 673.2,767.8 679.6,771.0 686.1,779.9 692.5,777.1 699.0,781.4 705.4,779.2 711.9,779.9 718.3,778.9 724.8,811.3 731.2,822.4 737.7,511.5" fill="none" stroke="#1f77b4" stroke-width="1.7" stroke-linejoin="round" stroke-linecap="square"/>
<rect x="67.50" y="494.30" width="702.30" height="391.40" fill="none" stroke="#555" stroke-width="1"/>
<path d="M99.40 885.70v3M163.87 885.70v3M228.34 885.70v3M292.81 885.70v3M357.28 885.70v3M421.75 885.70v3M486.22 885.70v3M550.69 885.70v3M615.16 885.70v3M679.63 885.70v3M67.50 868.00h-3M67.50 796.70h-3M67.50 725.40h-3M67.50 654.10h-3M67.50 582.80h-3M67.50 511.50h-3" fill="none" stroke="#444" stroke-width="0.9"/>
<g font-family="'DejaVu Sans','Liberation Sans',sans-serif" font-size="7.7" fill="#111" stroke="#111" stroke-width="0.2">
<text x="61.00" y="871.27" text-anchor="end">0.00</text>
<text x="61.00" y="799.97" text-anchor="end">0.02</text>
<text x="61.00" y="728.67" text-anchor="end">0.04</text>
<text x="61.00" y="657.37" text-anchor="end">0.06</text>
<text x="61.00" y="586.07" text-anchor="end">0.08</text>
<text x="61.00" y="514.77" text-anchor="end">0.10</text>
<text transform="translate(98.90 901.22) rotate(-45)" text-anchor="middle" y="2.77">0.0</text>
<text transform="translate(163.37 902.95) rotate(-45)" text-anchor="middle" y="2.77">14.4</text>
<text transform="translate(227.84 902.95) rotate(-45)" text-anchor="middle" y="2.77">28.9</text>
<text transform="translate(292.31 902.95) rotate(-45)" text-anchor="middle" y="2.77">43.3</text>
<text transform="translate(356.78 902.95) rotate(-45)" text-anchor="middle" y="2.77">57.8</text>
<text transform="translate(421.25 902.95) rotate(-45)" text-anchor="middle" y="2.77">72.2</text>
<text transform="translate(485.72 902.95) rotate(-45)" text-anchor="middle" y="2.77">86.7</text>
<text transform="translate(550.19 904.68) rotate(-45)" text-anchor="middle" y="2.77">101.1</text>
<text transform="translate(614.66 904.68) rotate(-45)" text-anchor="middle" y="2.77">115.6</text>
<text transform="translate(679.13 904.68) rotate(-45)" text-anchor="middle" y="2.77">130.0</text>
</g>
<text transform="translate(15.3 785.5) rotate(-90) scale(1 1.13)" font-family="'Liberation Mono','DejaVu Sans Mono',monospace" font-size="14.38" fill="#111" stroke="#111" stroke-width="0.22" xml:space="preserve">Cumulative hazard at</text>
<text transform="translate(31.8 785.5) rotate(-90) scale(1 1.13)" font-family="'Liberation Mono','DejaVu Sans Mono',monospace" font-size="14.38" fill="#111" stroke="#111" stroke-width="0.22" xml:space="preserve">pseudo observed times</text>
<text transform="translate(375 922.4) scale(1 1.13)" font-family="'Liberation Mono','DejaVu Sans Mono',monospace" font-size="14.05" fill="#111" stroke="#111" stroke-width="0.22">time</text>
<text x="436.8" y="983.8" font-family="'Liberation Serif','DejaVu Serif',serif" font-size="23" fill="#111" text-anchor="middle">(B)</text>
<rect x="787.5" y="498.7" width="87.5" height="143.00000000000006" rx="1.5" fill="#fff" stroke="#d4d4d4" stroke-width="0.8"/>
<g font-family="'DejaVu Sans','Liberation Sans',sans-serif" font-size="7.8" fill="#111" stroke="#111" stroke-width="0.2">
<path d="M790.5 505.80H806.5" stroke="#1f77b4" stroke-width="1.8" stroke-linecap="square"/>
<text x="813" y="508.61">Grade</text>
<path d="M790.5 518.60H806.5" stroke="#ff7f0e" stroke-width="1.8" stroke-linecap="square"/>
<text x="813" y="521.41">Stage</text>
<path d="M790.5 531.40H806.5" stroke="#16a248" stroke-width="1.8" stroke-linecap="square"/>
<text x="813" y="534.21">Tstage</text>
<path d="M790.5 544.20H806.5" stroke="#e2303a" stroke-width="1.8" stroke-linecap="square"/>
<text x="813" y="547.01">Nstage</text>
<path d="M790.5 557.00H806.5" stroke="#9467bd" stroke-width="1.8" stroke-linecap="square"/>
<text x="813" y="559.81">Mstage</text>
<path d="M790.5 569.80H806.5" stroke="#8c564b" stroke-width="1.8" stroke-linecap="square"/>
<text x="813" y="572.61">Radiotherapy</text>
<path d="M790.5 582.60H806.5" stroke="#e377c2" stroke-width="1.8" stroke-linecap="square"/>
<text x="813" y="585.41">Chemotherapy</text>
<path d="M790.5 595.40H806.5" stroke="#7f7f7f" stroke-width="1.8" stroke-linecap="square"/>
<text x="813" y="598.21">BoneMets</text>
<path d="M790.5 608.20H806.5" stroke="#bcbd22" stroke-width="1.8" stroke-linecap="square"/>
<text x="813" y="611.01">LiverMets</text>
<path d="M790.5 621.00H806.5" stroke="#08c5d5" stroke-width="1.8" stroke-linecap="square"/>
<text x="813" y="623.81">LungMets</text>
<path d="M790.5 633.80H806.5" stroke="#1f77b4" stroke-width="1.8" stroke-linecap="square"/>
<text x="813" y="636.61">Age</text>
</g>
</g>
</svg>
</body></html>
